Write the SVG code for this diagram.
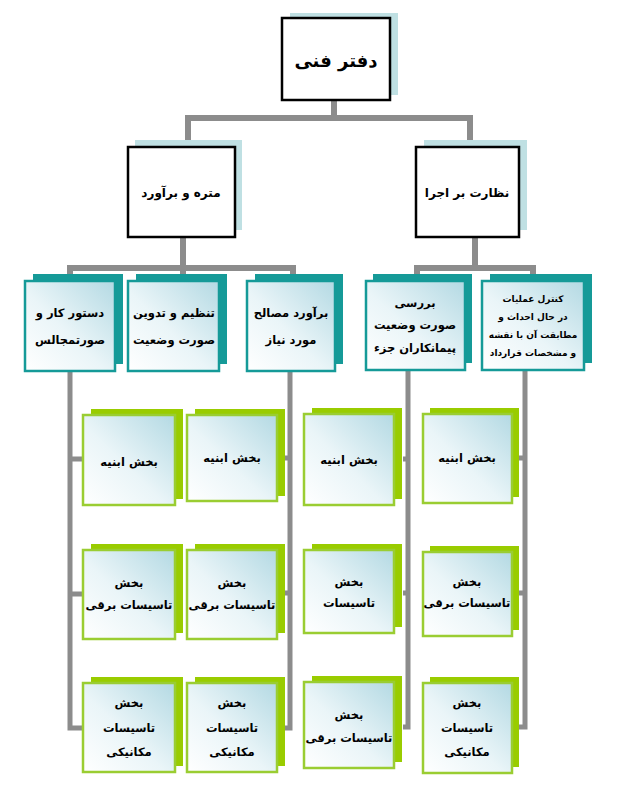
<svg xmlns="http://www.w3.org/2000/svg" width="623" height="792" viewBox="0 0 623 792">
<style>
.t{font-family:"DejaVu Sans","Noto Sans",sans-serif;font-weight:bold;fill:#000;text-anchor:middle}
.s1{fill:#bfe0e3}
.m1{fill:#fff;stroke:#000;stroke-width:2.5}
.s3{fill:#159a98}
.m3{fill:url(#g);stroke:#159a98;stroke-width:2.5}
.s4{fill:#99cc00}
.m4{fill:url(#g);stroke:#9acd32;stroke-width:2.5}
.c{fill:none;stroke:#8c8c8c;stroke-width:5}
</style>
<defs>
<linearGradient id="g" x1="0" y1="1" x2="1" y2="0">
<stop offset="0" stop-color="#ffffff"/>
<stop offset="0.45" stop-color="#eaf5f8"/>
<stop offset="1" stop-color="#b3d9e3"/>
</linearGradient>
</defs>
<rect width="623" height="792" fill="#fff"/>
<g id="connectors">
<path class="c" style="stroke-width:6" d="M334,100V118M188,147V118H470V147"/>
<path class="c" style="stroke-width:6" d="M183,237V268M70,276V268H293V276M183,268V276"/>
<path class="c" style="stroke-width:6" d="M475,237V268M417,276V268H533V276"/>
<path class="c" d="M70,371V728H85M70,459H85M70,594H85"/>
<path class="c" d="M290,371V728H283M290,458H283M290,593H283"/>
<path class="c" d="M408,370V727H403M408,459H403M408,593H403"/>
<path class="c" d="M525,370V727H519M525,458H519M525,593H519"/>
</g>
<g id="n-top">
<rect class="s1" x="290" y="13" width="108" height="82"/>
<rect class="m1" x="282" y="18" width="108" height="82"/>
<text class="t" x="336" y="67" font-size="18">دفتر فنی</text>
</g>
<g id="n-metre">
<rect class="s1" x="135" y="140" width="107" height="90"/>
<rect class="m1" x="128" y="147" width="107" height="90"/>
<text class="t" x="181" y="197" font-size="12">متره و برآورد</text>
</g>
<g id="n-nezarat">
<rect class="s1" x="424" y="140" width="103" height="90"/>
<rect class="m1" x="416" y="147" width="103" height="90"/>
<text class="t" x="467" y="197" font-size="12">نظارت بر اجرا</text>
</g>
<g id="n-dastoor">
<rect class="s3" x="33" y="274" width="90" height="90"/>
<rect class="m3" x="25" y="281" width="90" height="90"/>
<text class="t" x="70" y="317" font-size="11.5">دستور کار و</text>
<text class="t" x="70" y="344" font-size="11.5">صورتمجالس</text>
</g>
<g id="n-tanzim">
<rect class="s3" x="136" y="274" width="91" height="90"/>
<rect class="m3" x="128" y="281" width="91" height="90"/>
<text class="t" x="174" y="317" font-size="11.5">تنظیم و تدوین</text>
<text class="t" x="174" y="344" font-size="11.5">صورت وضعیت</text>
</g>
<g id="n-baravord">
<rect class="s3" x="255" y="274" width="88" height="90"/>
<rect class="m3" x="247" y="281" width="88" height="90"/>
<text class="t" x="291" y="317" font-size="11.5">برآورد مصالح</text>
<text class="t" x="291" y="344" font-size="11.5">مورد نیاز</text>
</g>
<g id="n-barresi">
<rect class="s3" x="373" y="274" width="99" height="89"/>
<rect class="m3" x="366" y="281" width="99" height="89"/>
<text class="t" x="415" y="307" font-size="11.5">بررسی</text>
<text class="t" x="415" y="329" font-size="11.5">صورت وضعیت</text>
<text class="t" x="415" y="352" font-size="11.5">پیمانکاران جزء</text>
</g>
<g id="n-control">
<rect class="s3" x="490" y="274" width="102" height="89"/>
<rect class="m3" x="482" y="281" width="102" height="89"/>
<text class="t" x="533" y="302" font-size="9">کنترل عملیات</text>
<text class="t" x="533" y="320" font-size="9">در حال احداث و</text>
<text class="t" x="533" y="338" font-size="9">مطابقت آن با نقشه</text>
<text class="t" x="533" y="356" font-size="9">و مشخصات قرارداد</text>
</g>
<g id="n-c1r1">
<rect class="s4" x="91" y="409" width="92" height="90"/>
<rect class="m4" x="83" y="415" width="92" height="90"/>
<text class="t" x="129" y="466" font-size="11.5">بخش ابنیه</text>
</g>
<g id="n-c2r1">
<rect class="s4" x="195" y="409" width="90" height="87"/>
<rect class="m4" x="187" y="415" width="90" height="86"/>
<text class="t" x="232" y="462" font-size="11.5">بخش ابنیه</text>
</g>
<g id="n-c3r1">
<rect class="s4" x="312" y="408" width="90" height="91"/>
<rect class="m4" x="304" y="414" width="90" height="91"/>
<text class="t" x="349" y="464" font-size="11.5">بخش ابنیه</text>
</g>
<g id="n-c4r1">
<rect class="s4" x="430" y="408" width="89" height="89"/>
<rect class="m4" x="423" y="414" width="89" height="89"/>
<text class="t" x="467" y="462" font-size="11.5">بخش ابنیه</text>
</g>
<g id="n-c1r2">
<rect class="s4" x="91" y="544" width="92" height="89"/>
<rect class="m4" x="83" y="550" width="92" height="89"/>
<text class="t" x="129" y="587" font-size="11.5">بخش</text>
<text class="t" x="129" y="609" font-size="11.5">تاسیسات برقی</text>
</g>
<g id="n-c2r2">
<rect class="s4" x="195" y="544" width="90" height="89"/>
<rect class="m4" x="187" y="550" width="90" height="89"/>
<text class="t" x="232" y="587" font-size="11.5">بخش</text>
<text class="t" x="232" y="609" font-size="11.5">تاسیسات برقی</text>
</g>
<g id="n-c3r2">
<rect class="s4" x="312" y="544" width="90" height="83"/>
<rect class="m4" x="304" y="550" width="90" height="83"/>
<text class="t" x="349" y="586" font-size="11.5">بخش</text>
<text class="t" x="349" y="607" font-size="11.5">تاسیسات</text>
</g>
<g id="n-c4r2">
<rect class="s4" x="430" y="546" width="89" height="84"/>
<rect class="m4" x="423" y="552" width="89" height="84"/>
<text class="t" x="467" y="586" font-size="11.5">بخش</text>
<text class="t" x="467" y="607" font-size="11.5">تاسیسات برقی</text>
</g>
<g id="n-c1r3">
<rect class="s4" x="91" y="677" width="92" height="89"/>
<rect class="m4" x="83" y="683" width="92" height="89"/>
<text class="t" x="129" y="707" font-size="11.5">بخش</text>
<text class="t" x="129" y="732" font-size="11.5">تاسیسات</text>
<text class="t" x="129" y="756" font-size="11.5">مکانیکی</text>
</g>
<g id="n-c2r3">
<rect class="s4" x="195" y="677" width="90" height="89"/>
<rect class="m4" x="187" y="683" width="90" height="89"/>
<text class="t" x="232" y="707" font-size="11.5">بخش</text>
<text class="t" x="232" y="732" font-size="11.5">تاسیسات</text>
<text class="t" x="232" y="756" font-size="11.5">مکانیکی</text>
</g>
<g id="n-c3r3">
<rect class="s4" x="312" y="676" width="90" height="86"/>
<rect class="m4" x="304" y="682" width="90" height="86"/>
<text class="t" x="349" y="719" font-size="11.5">بخش</text>
<text class="t" x="349" y="742" font-size="11.5">تاسیسات برقی</text>
</g>
<g id="n-c4r3">
<rect class="s4" x="430" y="677" width="89" height="90"/>
<rect class="m4" x="423" y="683" width="89" height="90"/>
<text class="t" x="467" y="707" font-size="11.5">بخش</text>
<text class="t" x="467" y="732" font-size="11.5">تاسیسات</text>
<text class="t" x="467" y="756" font-size="11.5">مکانیکی</text>
</g>
</svg>
